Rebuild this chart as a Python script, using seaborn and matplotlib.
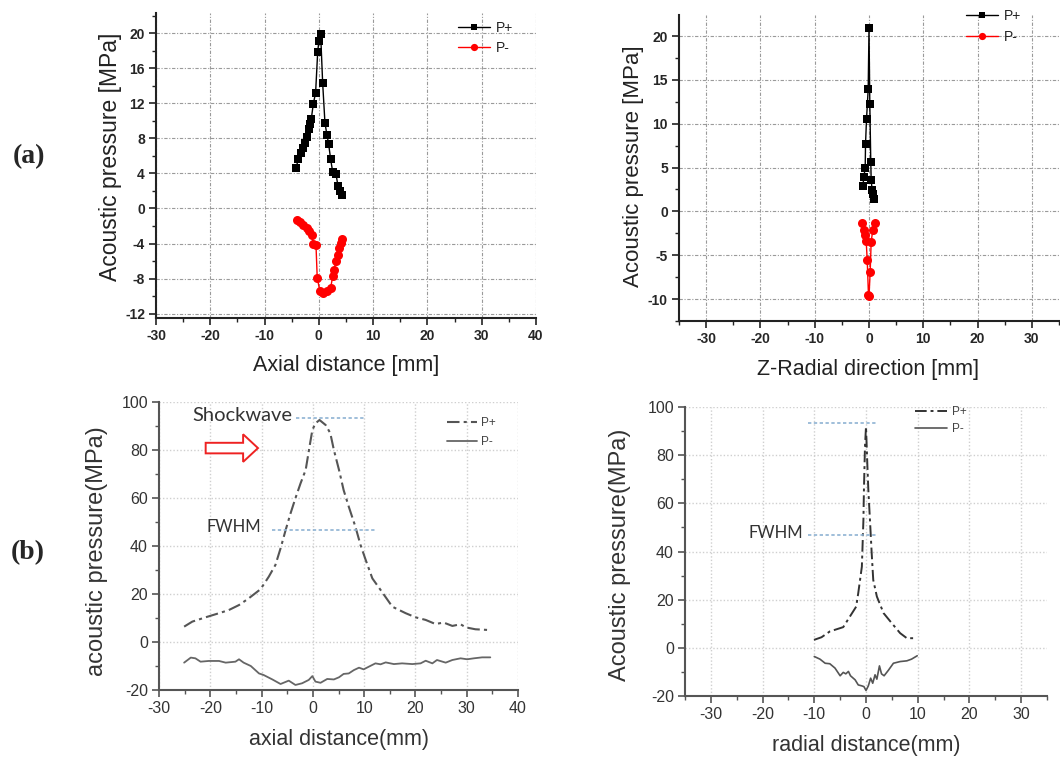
import numpy as np
import pandas as pd
import matplotlib
matplotlib.use("Agg")
import matplotlib.pyplot as plt
import matplotlib.patches as mpatches
from matplotlib.ticker import MultipleLocator
import seaborn as sns

# ---------------- data ----------------
# (a) left: axial distance, measured P+ / P-
axial_pos_x = [-4.22, -3.79, -3.36, -3.0, -2.62, -2.25, -1.88, -1.7, -1.4, -1.03, -0.6, -0.22, 0.0, 0.33,
               0.7, 1.12, 1.49, 1.8, 2.17, 2.54, 3.15, 3.52, 3.89, 4.25]
axial_pos_p = [4.59, 5.61, 6.3, 6.87, 7.51, 8.19, 9.03, 9.64, 10.17, 11.91, 13.2, 17.8, 19.13, 19.89,
               14.31, 9.79, 8.38, 7.36, 5.61, 4.2, 3.94, 2.57, 2.04, 1.55]
axial_neg_x = [-4.1, -3.48, -2.87, -2.25, -1.76, -1.33, -1.03, -0.53, -0.3, 0.2, 0.8, 1.43, 2.17, 2.54,
               2.78, 3.15, 3.46, 3.77, 4.0, 4.3]
axial_neg_p = [-1.37, -1.6, -1.87, -2.25, -2.63, -3.0, -4.03, -4.15, -7.94, -9.46, -9.65, -9.46, -9.08, -7.75,
               -7.0, -6.04, -5.28, -4.52, -3.95, -3.5]

# (a) right: Z-radial direction, measured P+ / P-
radial_pos_x = [-1.13, -0.95, -0.7, -0.64, -0.46, -0.15, 0.0, 0.15, 0.33, 0.4, 0.58, 0.77, 0.95]
radial_pos_p = [2.9, 3.9, 5.0, 7.7, 10.5, 13.92, 20.87, 12.2, 5.63, 3.54, 2.44, 1.95, 1.45]
radial_neg_x = [-1.25, -0.95, -0.7, -0.52, -0.33, -0.1, 0.0, 0.22, 0.4, 0.7, 1.07]
radial_neg_p = [-1.29, -2.12, -2.69, -3.34, -5.54, -9.53, -9.65, -6.87, -3.45, -2.12, -1.29]

# (b) left: simulated axial distance
sim_ax_pos_x = [-25.1, -23.5, -20.9, -18.3, -16.4, -14.4, -12.5, -10.2, -8.6, -7.3, -6.3, -5.3, -4.35,
                -3.4, -2.4, -1.4, -0.65, -0.1, 0.5, 1.3, 2.5, 3.4, 4.1, 5.1, 6.0, 7.0, 8.3, 9.3, 10.3,
                11.6, 13.2, 15.5, 18.1, 20.0, 22.0, 23.9, 25.5, 27.2, 28.8, 29.8, 31.7, 34.3]
sim_ax_pos_p = [6.4, 8.5, 10.3, 12.0, 13.3, 15.4, 18.2, 22.0, 27.2, 32.1, 39.0, 46.7, 53.6, 59.9, 66.1,
                71.7, 81.4, 88.3, 91.1, 92.5, 90.4, 87.0, 80.0, 71.7, 63.3, 56.4, 48.0, 40.4, 34.2,
                26.5, 21.7, 14.7, 12.0, 10.3, 9.2, 7.5, 8.1, 6.7, 7.4, 6.1, 5.3, 5.0]
sim_ax_neg_x = [-25.1, -23.8, -22.9, -21.9, -20.3, -18.3, -17.0, -15.1, -14.4, -13.5, -12.1, -10.5, -9.6,
                -7.9, -6.3, -4.7, -3.4, -2.1, -0.8, -0.1, 0.5, 1.5, 2.8, 4.1, 5.1, 6.0, 7.0, 8.0, 9.0,
                9.9, 10.9, 12.2, 13.2, 14.2, 15.8, 17.4, 19.4, 21.0, 22.0, 23.3, 24.2, 25.9, 27.2,
                28.8, 30.1, 31.4, 33.0, 34.6]
sim_ax_neg_p = [-8.6, -6.5, -6.8, -8.2, -7.9, -7.9, -8.6, -8.2, -7.2, -8.6, -10.0, -13.1, -13.75, -15.6,
                -17.5, -16.1, -17.9, -17.2, -15.8, -14.2, -16.5, -17.0, -15.4, -15.6, -14.7, -13.3,
                -13.1, -11.7, -10.7, -11.4, -10.3, -8.9, -9.3, -8.5, -9.2, -8.9, -9.2, -8.9, -7.8,
                -8.9, -7.5, -8.6, -7.5, -6.8, -7.2, -6.8, -6.4, -6.4]

# (b) right: simulated radial distance
sim_rad_pos_x = [-10.06, -8.6, -7.0, -4.4, -3.2, -1.9, -1.5, -0.8, -0.5, -0.4, -0.2, 0.0, 0.25, 0.45,
                 0.8, 1.1, 1.4, 2.1, 3.4, 5.0, 6.6, 7.9, 9.8]
sim_rad_pos_p = [3.3, 4.4, 6.8, 8.6, 12.7, 17.1, 22.7, 33.7, 53.1, 65.6, 83.5, 91.8, 76.6, 65.6, 51.7,
                 39.3, 28.2, 21.3, 14.4, 10.2, 6.1, 4.0, 4.0]
sim_rad_neg_x = [-10.0, -8.9, -7.9, -7.0, -6.0, -5.0, -4.4, -3.9, -3.4, -3.0, -2.1, -1.5, -0.8, -0.4,
                 0.0, 0.45, 0.9, 1.3, 1.75, 2.1, 2.6, 3.0, 3.5, 4.3, 5.3, 6.6, 7.9, 8.8, 9.9]
sim_rad_neg_p = [-3.6, -4.7, -6.4, -6.6, -8.4, -11.6, -10.2, -10.8, -9.8, -11.6, -13.3, -15.4, -15.8,
                 -16.1, -17.7, -15.8, -12.6, -14.7, -11.2, -13.0, -7.5, -10.8, -11.6, -9.4, -6.4,
                 -5.7, -5.4, -4.7, -3.3]

series_labels = ["P+", "P-"]
panel_labels = ["(a)", "(b)"]

# ---------------- style ----------------
sns.set_style("white")
plt.rcParams['font.family'] = ['Liberation Sans', 'DejaVu Sans']
plt.rcParams['axes.unicode_minus'] = False

W, H = 1060, 762
fig = plt.figure(figsize=(W / 100, H / 100), dpi=100)


def px_axes(l, t, r, b):
    return fig.add_axes([l / W, 1 - b / H, (r - l) / W, (b - t) / H])


def style_top(ax, xlim, ylim, xmaj, ymaj):
    ax.set_xlim(*xlim)
    ax.set_ylim(*ylim)
    ax.xaxis.set_major_locator(MultipleLocator(xmaj))
    ax.xaxis.set_minor_locator(MultipleLocator(xmaj / 2))
    ax.yaxis.set_major_locator(MultipleLocator(ymaj))
    ax.yaxis.set_minor_locator(MultipleLocator(ymaj / 2))
    for s in ["top", "right"]:
        ax.spines[s].set_visible(False)
    for s in ["left", "bottom"]:
        ax.spines[s].set_color("#222222")
        ax.spines[s].set_linewidth(1.5)
    ax.tick_params(which="major", direction="out", length=5, width=1.2, color="#222222",
                   labelsize=10, pad=3, left=True, bottom=True)
    ax.tick_params(which="minor", direction="out", length=3, width=1, color="#222222",
                   left=True, bottom=True)
    for lab in ax.get_xticklabels() + ax.get_yticklabels():
        lab.set_fontweight("bold")
    ax.grid(True, which="major", color="#9a9a9a", linestyle=(0, (3, 1.5, 1, 1.5)), linewidth=0.8)
    ax.set_axisbelow(True)
    ax.set_xlabel("")
    ax.set_ylabel("")


def style_bottom(ax, xlim, ylim, xticks):
    ax.set_xlim(*xlim)
    ax.set_ylim(*ylim)
    ax.set_xticks(xticks)
    ax.xaxis.set_minor_locator(MultipleLocator(5))
    ax.yaxis.set_major_locator(MultipleLocator(20))
    ax.yaxis.set_minor_locator(MultipleLocator(10))
    for s in ["top", "right"]:
        ax.spines[s].set_visible(False)
    for s in ["left", "bottom"]:
        ax.spines[s].set_color("#555555")
        ax.spines[s].set_linewidth(1.5)
    ax.tick_params(which="major", direction="out", length=5, width=1.2, color="#555555",
                   labelsize=11.5, labelcolor="#333333", pad=3, left=True, bottom=True)
    ax.tick_params(which="minor", direction="out", length=3, width=1, color="#555555",
                   left=True, bottom=True)
    ax.grid(True, which="major", color="#cfcfcf", linestyle=(0, (1, 1.5)), linewidth=1.0)
    ax.set_axisbelow(True)
    ax.set_xlabel("")
    ax.set_ylabel("")


# ---------------- (a) left ----------------
ax1 = px_axes(156, 13, 536, 318)
sns.lineplot(x=axial_pos_x, y=axial_pos_p, ax=ax1, sort=False, estimator=None, color="black",
             marker="s", markersize=5.5, markeredgewidth=0, linewidth=1, label=series_labels[0])
sns.lineplot(x=axial_neg_x, y=axial_neg_p, ax=ax1, sort=False, estimator=None, color="#ff0000",
             marker="o", markersize=6.5, markeredgewidth=0, linewidth=1, label=series_labels[1])
style_top(ax1, (-30, 40), (-12.5, 22.3), 10, 4)
ax1.legend(loc="upper left", bbox_to_anchor=(458 / W, 1 - 21 / H), bbox_transform=fig.transFigure,
           frameon=False, fontsize=10, handlelength=2.3, handletextpad=0.4, borderpad=0,
           borderaxespad=0, labelspacing=0.45, markerscale=0.8, labelcolor="#222222")

# ---------------- (a) right ----------------
ax2 = px_axes(679, 15, 1059, 321)
sns.lineplot(x=radial_pos_x, y=radial_pos_p, ax=ax2, sort=False, estimator=None, color="black",
             marker="s", markersize=5.5, markeredgewidth=0, linewidth=1, label=series_labels[0])
sns.lineplot(x=radial_neg_x, y=radial_neg_p, ax=ax2, sort=False, estimator=None, color="#ff0000",
             marker="o", markersize=6.5, markeredgewidth=0, linewidth=1, label=series_labels[1])
style_top(ax2, (-35, 35), (-12.5, 22.4), 10, 5)
ax2.legend(loc="upper left", bbox_to_anchor=(966 / W, 1 - 9 / H), bbox_transform=fig.transFigure,
           frameon=False, fontsize=10, handlelength=2.3, handletextpad=0.4, borderpad=0,
           borderaxespad=0, labelspacing=0.5, markerscale=0.8, labelcolor="#222222")

# ---------------- (b) left ----------------
ax3 = px_axes(159, 402, 518, 690)
sns.lineplot(x=sim_ax_pos_x, y=sim_ax_pos_p, ax=ax3, sort=False, estimator=None, color="#555555",
             linewidth=1.5, linestyle=(0, (6, 2, 1.5, 2)), label=series_labels[0])
sns.lineplot(x=sim_ax_neg_x, y=sim_ax_neg_p, ax=ax3, sort=False, estimator=None, color="#666666",
             linewidth=1.3, label=series_labels[1])
style_bottom(ax3, (-30, 40), (-20, 100), np.arange(-30, 41, 10))
ax3.legend(loc="upper left", bbox_to_anchor=(447 / W, 1 - 417 / H), bbox_transform=fig.transFigure,
           frameon=False, fontsize=8.5, handlelength=2.5, handletextpad=0.4, borderpad=0,
           borderaxespad=0, labelspacing=0.6, labelcolor="#444444")
# annotations
ax3.plot([-3.3, 9.9], [93.3, 93.3], color="#8fb3d3", linestyle=(0, (2, 1.5)), linewidth=1.2)
ax3.plot([-8.05, 12.5], [46.7, 46.7], color="#8fb3d3", linestyle=(0, (2, 1.5)), linewidth=1.2)
ax3.text(-23.5, 94.3, "Shockwave", fontsize=14.5, color="#333333", va="center", ha="left",
         family=["Lato", "DejaVu Sans"])
ax3.text(-20.7, 47.9, "FWHM", fontsize=12, color="#333333", va="center", ha="left",
         family=["Lato", "DejaVu Sans"])
arrow = mpatches.FancyArrow(-20.9, 80.8, 10.2, 0, width=4.4, head_width=11.5, head_length=2.9,
                            length_includes_head=True, facecolor="white", edgecolor="#ee2222",
                            linewidth=1.4)
ax3.add_patch(arrow)

# ---------------- (b) right ----------------
ax4 = px_axes(685, 407, 1047, 696)
sns.lineplot(x=sim_rad_pos_x, y=sim_rad_pos_p, ax=ax4, sort=False, estimator=None, color="#333333",
             linewidth=1.4, linestyle=(0, (6, 2, 1.5, 2)), label=series_labels[0])
sns.lineplot(x=sim_rad_neg_x, y=sim_rad_neg_p, ax=ax4, sort=False, estimator=None, color="#555555",
             linewidth=1.2, label=series_labels[1])
style_bottom(ax4, (-35, 35), (-20, 100), np.arange(-30, 31, 10))
ax4.legend(loc="upper left", bbox_to_anchor=(915 / W, 1 - 406 / H), bbox_transform=fig.transFigure,
           frameon=False, fontsize=8.5, handlelength=2.7, handletextpad=0.4, borderpad=0,
           borderaxespad=0, labelspacing=0.45, labelcolor="#444444")
ax4.plot([-11.2, 2.1], [93.5, 93.5], color="#8fb3d3", linestyle=(0, (2, 1.5)), linewidth=1.2)
ax4.plot([-11.2, 2.1], [46.8, 46.8], color="#8fb3d3", linestyle=(0, (2, 1.5)), linewidth=1.2)
ax4.text(-22.8, 47.8, "FWHM", fontsize=12, color="#333333", va="center", ha="left",
         family=["Lato", "DejaVu Sans"])

# ---------------- axis labels & panel labels ----------------
fig.text(346 / W, 1 - 366 / H, "Axial distance [mm]", ha="center", va="center", fontsize=15.5,
         color="#222222")
fig.text(110 / W, 1 - 157 / H, "Acoustic pressure [MPa]", ha="center", va="center", fontsize=16.5,
         rotation=90, color="#222222")
fig.text(868 / W, 1 - 370 / H, "Z-Radial direction [mm]", ha="center", va="center", fontsize=15.5,
         color="#222222")
fig.text(634 / W, 1 - 166 / H, "Acoustic pressure [MPa]", ha="center", va="center", fontsize=16,
         rotation=90, color="#222222")
fig.text(339 / W, 1 - 740 / H, "axial distance(mm)", ha="center", va="center", fontsize=15.5,
         color="#333333")
fig.text(97 / W, 1 - 551 / H, "acoustic pressure(MPa)", ha="center", va="center", fontsize=17,
         rotation=90, color="#333333")
fig.text(866 / W, 1 - 745 / H, "radial distance(mm)", ha="center", va="center", fontsize=15.5,
         color="#333333")
fig.text(620 / W, 1 - 555 / H, "Acoustic pressure(MPa)", ha="center", va="center", fontsize=17,
         rotation=90, color="#333333")
fig.text(29 / W, 1 - 157 / H, panel_labels[0], ha="center", va="center", fontsize=20,
         fontweight="bold", family=["Liberation Serif", "DejaVu Serif"])
fig.text(28 / W, 1 - 553 / H, panel_labels[1], ha="center", va="center", fontsize=20,
         fontweight="bold", family=["Liberation Serif", "DejaVu Serif"])

fig.savefig("out.png", dpi=100)
